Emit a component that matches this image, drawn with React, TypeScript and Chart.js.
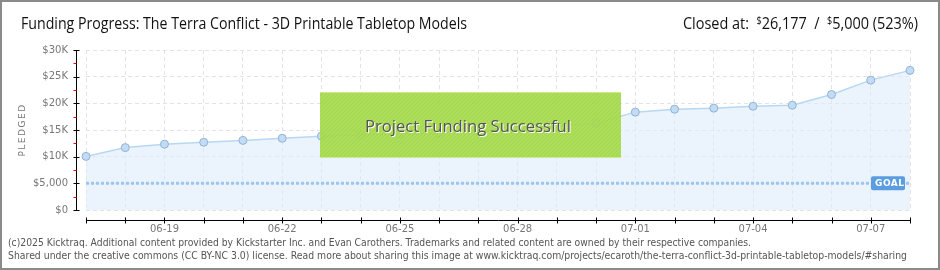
import React, { useEffect, useRef } from "react";
import { Chart, registerables } from "chart.js";

Chart.register(...registerables);

const dates = [
  "06-17", "06-18", "06-19", "06-20", "06-21", "06-22", "06-23", "06-24",
  "06-25", "06-26", "06-27", "06-28", "06-29", "06-30", "07-01", "07-02",
  "07-03", "07-04", "07-05", "07-06", "07-07", "07-08",
];
const pledged = [
  10050, 11700, 12350, 12700, 13050, 13450, 13850, 14050,
  14200, 14400, 14800, 15200, 15700, 16250, 18350, 18900,
  19100, 19450, 19650, 21650, 24350, 26177,
];
const goalAmount = 5000;
const goalSeries = dates.map(() => goalAmount);
const shownDateLabels = ["06-19", "06-22", "06-25", "06-28", "07-01", "07-04", "07-07"];
const yTickLabels: Record<number, string> = {
  0: "$0", 5000: "$5,000", 10000: "$10K", 15000: "$15K",
  20000: "$20K", 25000: "$25K", 30000: "$30K",
};
const titleText = "Funding Progress: The Terra Conflict - 3D Printable Tabletop Models";
const closedAmount = "26,177";
const goalText = "5,000";
const percentText = "(523%)";
const bannerText = "Project Funding Successful";
const footerLines = [
  "(c)2025 Kicktraq. Additional content provided by Kickstarter Inc. and Evan Carothers. Trademarks and related content are owned by their respective companies.",
  "Shared under the creative commons (CC BY-NC 3.0) license. Read more about sharing this image at www.kicktraq.com/projects/ecaroth/the-terra-conflict-3d-printable-tabletop-models/#sharing",
];

function fitText(ctx: CanvasRenderingContext2D, text: string, x: number, y: number, targetW: number) {
  const w = ctx.measureText(text).width;
  const s = targetW / w;
  ctx.save();
  ctx.translate(x, y);
  ctx.scale(s, 1);
  ctx.textAlign = "left";
  ctx.fillText(text, 0, 0);
  ctx.restore();
}

const decorPlugin = {
  id: "decor",
  beforeDraw(chart: any) {
    const ctx = chart.ctx as CanvasRenderingContext2D;
    ctx.save();
    ctx.fillStyle = "#ffffff";
    ctx.fillRect(0, 0, chart.width, chart.height);
    ctx.restore();
  },
  afterDatasetsDraw(chart: any) {
    const ctx = chart.ctx as CanvasRenderingContext2D;
    const ca = chart.chartArea;
    const ys = chart.scales.y;
    // GOAL label
    const gy = ys.getPixelForValue(goalAmount);
    ctx.save();
    const gx = ca.right - 39;
    ctx.fillStyle = "#5b9de0";
    ctx.beginPath();
    (ctx as any).roundRect(gx, gy - 7, 34, 14, 2);
    ctx.fill();
    ctx.fillStyle = "#ffffff";
    ctx.font = "bold 9px 'DejaVu Sans'";
    ctx.textBaseline = "middle";
    ctx.letterSpacing = "0.5px";
    ctx.fillText("GOAL", gx + 4, gy + 0.5);
    ctx.restore();

    // success banner
    const bx = ca.left + 234;
    const by = ca.top + 42;
    const bw = 301;
    const bh = 66;
    ctx.save();
    ctx.globalAlpha = 0.93;
    ctx.fillStyle = "#a7dc4e";
    ctx.fillRect(bx, by, bw, bh);
    ctx.globalAlpha = 1;
    ctx.beginPath();
    ctx.rect(bx, by, bw, bh);
    ctx.clip();
    ctx.strokeStyle = "rgba(120,170,40,0.18)";
    ctx.lineWidth = 1;
    for (let i = -bh; i < bw; i += 4) {
      ctx.beginPath();
      ctx.moveTo(bx + i, by + bh);
      ctx.lineTo(bx + i + bh, by);
      ctx.stroke();
    }
    ctx.restore();
    ctx.save();
    ctx.fillStyle = "#c9ec8e";
    ctx.fillRect(bx, by, bw, 1);
    ctx.fillRect(bx, by + bh - 1, bw, 1);
    ctx.font = "17px 'Open Sans'";
    ctx.textBaseline = "middle";
    ctx.fillStyle = "#ffffff";
    fitText(ctx, bannerText, bx + 46, by + 36, 206);
    ctx.fillStyle = "#555555";
    fitText(ctx, bannerText, bx + 45, by + 35, 206);
    ctx.restore();
  },
  afterDraw(chart: any) {
    const ctx = chart.ctx as CanvasRenderingContext2D;
    const ca = chart.chartArea;
    const ys = chart.scales.y;
    const xs = chart.scales.x;
    ctx.save();
    // y axis
    const axX = Math.round(ca.left - 10) + 0.5;
    ctx.strokeStyle = "#000000";
    ctx.lineWidth = 1;
    ctx.beginPath();
    ctx.moveTo(axX, ca.top);
    ctx.lineTo(axX, ca.bottom + 1);
    ctx.stroke();
    const tv = ys.ticks.map((t: any) => t.value);
    tv.forEach((v: number) => {
      const y = Math.round(ys.getPixelForValue(v)) + 0.5;
      ctx.strokeStyle = "#000000";
      ctx.beginPath();
      ctx.moveTo(axX - 3, y);
      ctx.lineTo(axX + 3, y);
      ctx.stroke();
    });
    for (let i = 0; i < tv.length - 1; i++) {
      const y = Math.round(ys.getPixelForValue((tv[i] + tv[i + 1]) / 2)) + 0.5;
      ctx.strokeStyle = "#ff0000";
      ctx.beginPath();
      ctx.moveTo(axX - 3, y);
      ctx.lineTo(axX, y);
      ctx.stroke();
    }
    // x axis
    const axY = Math.round(ca.bottom + 10) + 0.5;
    ctx.strokeStyle = "#000000";
    ctx.beginPath();
    ctx.moveTo(ca.left, axY);
    ctx.lineTo(ca.right + 1, axY);
    ctx.stroke();
    dates.forEach((_, i) => {
      const x = Math.round(xs.getPixelForValue(i)) + 0.5;
      ctx.beginPath();
      ctx.moveTo(x, axY - 3);
      ctx.lineTo(x, axY + 3);
      ctx.stroke();
    });

    // PLEDGED
    ctx.save();
    ctx.translate(23, (ca.top + ca.bottom) / 2);
    ctx.rotate(-Math.PI / 2);
    ctx.fillStyle = "#777777";
    ctx.font = "9px 'DejaVu Sans'";
    ctx.letterSpacing = "1.5px";
    ctx.textAlign = "center";
    ctx.textBaseline = "middle";
    ctx.fillText("PLEDGED", 0, 0);
    ctx.restore();

    // title
    ctx.fillStyle = "#111111";
    ctx.font = "16px 'Open Sans'";
    ctx.textBaseline = "alphabetic";
    fitText(ctx, titleText, 21, 29, 446);

    // closed at
    const parts: [string, boolean][] = [
      ["Closed at:  ", false],
      ["$", true],
      [closedAmount + "  /  ", false],
      ["$", true],
      [goalText + " " + percentText, false],
    ];
    const bigFont = "16px 'Open Sans'";
    const supFont = "10px 'Open Sans'";
    let total = 0;
    parts.forEach(([t, sup]) => {
      ctx.font = sup ? supFont : bigFont;
      total += ctx.measureText(t).width;
    });
    const target = 235;
    const sx = target / total;
    ctx.save();
    ctx.translate(918 - target, 29);
    ctx.scale(sx, 1);
    let cx = 0;
    parts.forEach(([t, sup]) => {
      ctx.font = sup ? supFont : bigFont;
      ctx.fillText(t, cx, sup ? -5 : 0);
      cx += ctx.measureText(t).width;
    });
    ctx.restore();

    // footer
    ctx.fillStyle = "#555555";
    ctx.font = "10px 'DejaVu Sans'";
    ctx.textBaseline = "middle";
    fitText(ctx, footerLines[0], 8, 243, 743);
    fitText(ctx, footerLines[1], 8, 256, 899);

    // frame
    ctx.strokeStyle = "#8a8a8a";
    ctx.lineWidth = 2;
    ctx.strokeRect(1, 1, chart.width - 2, chart.height - 2);
    ctx.restore();
  },
};

export default function App() {
  const ref = useRef<HTMLCanvasElement | null>(null);
  useEffect(() => {
    document.body.style.margin = "0";
    if (!ref.current) return;
    const chart = new Chart(ref.current, {
      type: "line",
      data: {
        labels: dates,
        datasets: [
          {
            label: "Goal",
            data: goalSeries,
            borderColor: "#9ec5ef",
            borderWidth: 3,
            borderDash: [3, 2],
            pointRadius: 0,
            fill: false,
            order: 1,
          },
          {
            label: "Pledged",
            data: pledged,
            borderColor: "#b8d7f3",
            borderWidth: 1.5,
            backgroundColor: "rgba(222,236,251,0.6)",
            fill: "origin",
            pointRadius: 4,
            pointBackgroundColor: "#c2dcf6",
            pointBorderColor: "#93b3d3",
            pointBorderWidth: 1,
            tension: 0,
            order: 2,
          },
        ],
      },
      options: {
        animation: false,
        responsive: false,
        layout: { padding: { left: 0, right: 30, top: 50, bottom: 0 } },
        plugins: { legend: { display: false }, tooltip: { enabled: false }, title: { display: false } },
        scales: {
          x: {
            type: "category",
            offset: false,
            grid: { color: "#e3e3e3", lineWidth: 1, drawTicks: false },
            border: { display: false, dash: [4, 3] },
            ticks: {
              autoSkip: false,
              maxRotation: 0,
              padding: 13,
              color: "#777777",
              font: { family: "'DejaVu Sans'", size: 10 },
              callback: (_v: any, i: number) => (shownDateLabels.includes(dates[i]) ? dates[i] : ""),
            },
            afterFit: (s: any) => { s.height = 60; },
          },
          y: {
            min: 0,
            max: 30000,
            grid: { color: "#e3e3e3", lineWidth: 1, drawTicks: false },
            border: { display: false, dash: [4, 3] },
            ticks: {
              stepSize: 5000,
              padding: 18,
              color: "#777777",
              font: { family: "'DejaVu Sans'", size: 10 },
              callback: (v: any) => yTickLabels[Number(v)] ?? "",
            },
            afterFit: (s: any) => { s.width = 86; },
          },
        },
      },
      plugins: [decorPlugin],
    });
    return () => chart.destroy();
  }, []);
  return (
    <div style={{ width: 940, height: 270 }}>
      <canvas ref={ref} width={940} height={270} style={{ display: "block" }} />
    </div>
  );
}
